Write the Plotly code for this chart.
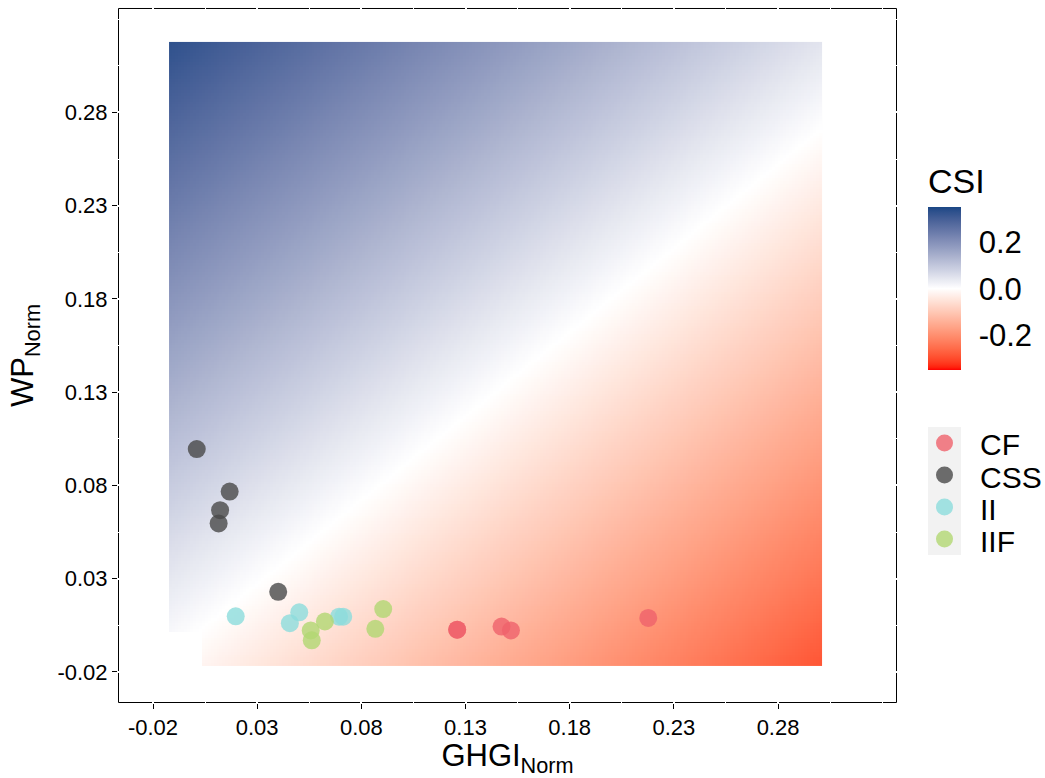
import numpy as np
import plotly.graph_objects as go

# ---- sample points (GHGI_Norm, WP_Norm) by system ----
groups = ["CF", "CSS", "II", "IIF"]
ghgi = {
    "CF":  [0.1260, 0.1260, 0.1473, 0.1518, 0.2177],
    "CSS": [0.0010, 0.0168, 0.0122, 0.0115, 0.0401],
    "II":  [0.0197, 0.0457, 0.0502, 0.0693, 0.0713],
    "IIF": [0.0557, 0.0562, 0.0625, 0.0867, 0.0905],
}
wp = {
    "CF":  [0.0026, 0.0026, 0.0043, 0.0022, 0.0089],
    "CSS": [0.0995, 0.0767, 0.0667, 0.0596, 0.0229],
    "II":  [0.0098, 0.0061, 0.0119, 0.0096, 0.0096],
    "IIF": [0.0022, -0.0031, 0.0070, 0.0031, 0.0137],
}
group_colors = {"CF": "#ef626b", "CSS": "#494949", "II": "#8cdcdc", "IIF": "#b1d772"}
point_opacity = 0.8

# ---- CSI surface: CSI = WP - w * GHGI over the sampled domain ----
ghgi_min, ghgi_max = -0.0123, 0.3012
wp_min, wp_max = -0.0168, 0.3178
ghgi_weight = 0.9
csi_limits = (-0.35, 0.35)
csi_ticks = [-0.2, 0.0, 0.2]
csi_ticktext = ["-0.2", "0.0", "0.2"]

# axis ticks and grid
axis_ticks = [-0.02, 0.03, 0.08, 0.13, 0.18, 0.23, 0.28]
axis_ticktext = ["-0.02", "0.03", "0.08", "0.13", "0.18", "0.23", "0.28"]
minor_grid = [0.005, 0.055, 0.105, 0.155, 0.205, 0.255, 0.305, 0.33]


# ---- diverging palette interpolated in CIELAB ----
def hex_to_rgb(h):
    h = h.lstrip("#")
    return np.array([int(h[i:i + 2], 16) for i in (0, 2, 4)], dtype=float)


M = np.array([[0.4124564, 0.3575761, 0.1804375],
              [0.2126729, 0.7151522, 0.0721750],
              [0.0193339, 0.1191920, 0.9503041]])
WHITE = np.array([0.95047, 1.0, 1.08883])


def rgb_to_lab(rgb):
    c = rgb / 255.0
    lin = np.where(c <= 0.04045, c / 12.92, ((c + 0.055) / 1.055) ** 2.4)
    xyz = M @ lin / WHITE
    d = 6 / 29
    f = np.where(xyz > d ** 3, np.cbrt(xyz), xyz / (3 * d * d) + 4 / 29)
    return np.array([116 * f[1] - 16, 500 * (f[0] - f[1]), 200 * (f[1] - f[2])])


def lab_to_rgb(lab):
    L, a, b = lab
    fy = (L + 16) / 116
    fx = fy + a / 500
    fz = fy - b / 200
    d = 6 / 29
    f = np.array([fx, fy, fz])
    xyz = np.where(f > d, f ** 3, 3 * d * d * (f - 4 / 29)) * WHITE
    lin = np.linalg.solve(M, xyz)
    lin = np.clip(lin, 0, 1)
    c = np.where(lin <= 0.0031308, 12.92 * lin, 1.055 * lin ** (1 / 2.4) - 0.055)
    return np.clip(np.round(c * 255), 0, 255).astype(int)


low_lab = rgb_to_lab(hex_to_rgb("#ff0000"))
mid_lab = rgb_to_lab(hex_to_rgb("#ffffff"))
high_lab = rgb_to_lab(hex_to_rgb("#1a4785"))

colorscale = []
n_stops = 61
for i in range(n_stops):
    p = i / (n_stops - 1)
    if p <= 0.5:
        t = p / 0.5
        lab = low_lab + t * (mid_lab - low_lab)
    else:
        t = (p - 0.5) / 0.5
        lab = mid_lab + t * (high_lab - mid_lab)
    r, g, b = lab_to_rgb(lab)
    colorscale.append([p, f"rgb({r},{g},{b})"])

# ---- CSI grid ----
n = 220
dx = (ghgi_max - ghgi_min) / n
dy = (wp_max - wp_min) / n
gx = ghgi_min + (np.arange(n) + 0.5) * dx
gy = wp_min + (np.arange(n) + 0.5) * dy
GX, GY = np.meshgrid(gx, gy)
csi = GY - ghgi_weight * GX
# no surface values in the lower-left corner block
csi = np.where((GX < 0.004) & (GY < 0.0013), np.nan, csi)

FONT = "Liberation Sans, Arial, sans-serif"

# plot area in pixels
PL, PR, PT, PB = 118, 897, 8, 708


def px_x(px):
    return (px - PL) / (PR - PL)


def px_y(py):
    return (PB - py) / (PB - PT)


fig = go.Figure()
fig.add_trace(go.Heatmap(
    x=gx, y=gy, z=csi,
    zmin=csi_limits[0], zmax=csi_limits[1],
    colorscale=colorscale,
    zsmooth=False,
    hoverinfo="skip",
    showscale=True,
    colorbar=dict(
        title=dict(text="CSI", side="top", font=dict(size=34, color="black", family=FONT)),
        tickvals=csi_ticks, ticktext=csi_ticktext,
        ticks="outside", ticklen=12, tickcolor="rgba(0,0,0,0)", tickwidth=1,
        tickfont=dict(size=31, color="black", family=FONT),
        thickness=33, thicknessmode="pixels",
        len=206, lenmode="pixels",
        x=px_x(928), xanchor="left", xpad=0,
        y=px_y(373), yanchor="bottom", ypad=0,
        outlinewidth=0,
    ),
))

for g in groups:
    fig.add_trace(go.Scatter(
        x=ghgi[g], y=wp[g], mode="markers", name=g, showlegend=False,
        marker=dict(size=18, color=group_colors[g], opacity=point_opacity, line=dict(width=0)),
        hoverinfo="skip",
    ))

# panel border, drawn beneath the white grid lines
fig.add_shape(type="rect", xref="paper", yref="paper",
              x0=px_x(PL + 0.5), x1=px_x(PR - 0.5), y0=px_y(PB - 0.5), y1=px_y(PT + 0.5),
              line=dict(color="black", width=1), fillcolor="rgba(0,0,0,0)", layer="below")

# ---- group legend: grey key column, circle keys and labels ----
key_left, key_right, key_top, key_step = 928, 961, 430, 32.25
key_cx = (key_left + key_right) / 2
key_r = 8.5
fig.add_shape(type="rect", xref="paper", yref="paper",
              x0=px_x(key_left), x1=px_x(key_right),
              y0=px_y(key_top + key_step * len(groups)), y1=px_y(key_top),
              fillcolor="#f2f2f2", line=dict(width=0), layer="below")
for i, g in enumerate(groups):
    cy = key_top + key_step * (i + 0.5)
    fig.add_shape(type="circle", xref="paper", yref="paper",
                  x0=px_x(key_cx - key_r), x1=px_x(key_cx + key_r),
                  y0=px_y(cy + key_r), y1=px_y(cy - key_r),
                  fillcolor=group_colors[g], opacity=point_opacity,
                  line=dict(width=0), layer="above")
    fig.add_annotation(x=px_x(978), y=px_y(cy + 2), xref="paper", yref="paper",
                       text=g, showarrow=False, xanchor="left", yanchor="middle",
                       font=dict(size=30, color="black", family=FONT))

axis_common = dict(
    tickvals=axis_ticks, ticktext=axis_ticktext,
    ticks="outside", ticklen=5, tickwidth=1, tickcolor="black",
    tickfont=dict(size=22, color="black", family=FONT),
    showline=False,
    showgrid=True, gridcolor="white", gridwidth=1.5,
    minor=dict(tickvals=minor_grid, showgrid=True, gridcolor="white", gridwidth=1, ticks=""),
    zeroline=False,
)

fig.update_layout(
    width=1045, height=778,
    margin=dict(l=PL, r=1045 - PR, t=PT, b=778 - PB),
    paper_bgcolor="white", plot_bgcolor="white",
    showlegend=False,
    xaxis=dict(range=[-0.0368, 0.3371],
               title=dict(text="GHGI<sub>Norm</sub>", font=dict(size=31, color="black", family=FONT), standoff=8),
               **axis_common),
    yaxis=dict(range=[-0.0367, 0.336],
               title=dict(text="WP<sub>Norm</sub>", font=dict(size=31, color="black", family=FONT), standoff=14),
               **axis_common),
    font=dict(family=FONT, color="black"),
)

fig.write_html("out.html")
